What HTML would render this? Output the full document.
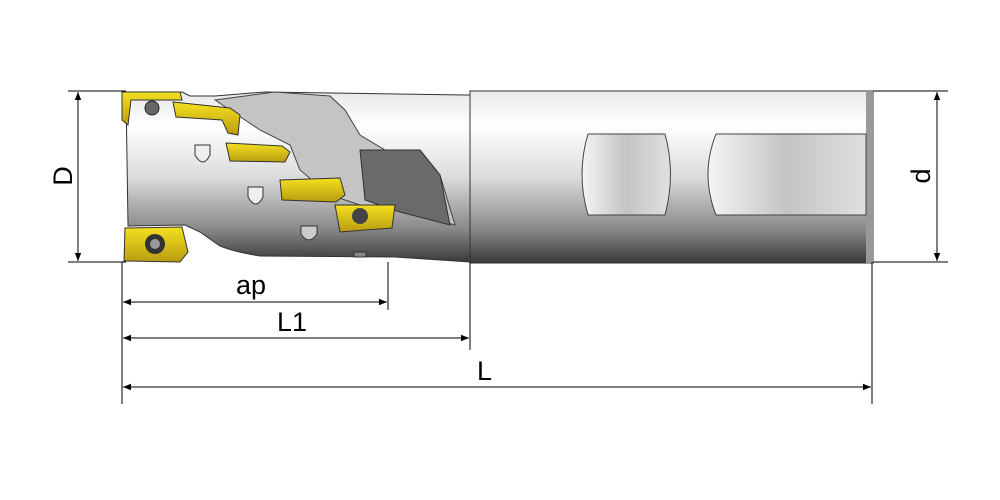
<!DOCTYPE html>
<html><head><style>body{margin:0;background:#fff}svg{display:block}</style></head><body>
<svg width="1000" height="500" viewBox="0 0 1000 500" xmlns="http://www.w3.org/2000/svg">
<defs>
<linearGradient id="g" x1="0" y1="0" x2="0" y2="1">
<stop offset="0" stop-color="#e8e8e8"/><stop offset="0.2" stop-color="#ffffff"/><stop offset="0.5" stop-color="#dcdcdc"/><stop offset="0.8" stop-color="#8a8a8a"/><stop offset="1" stop-color="#3a3a3a"/>
</linearGradient>
<linearGradient id="f" x1="0" y1="0" x2="1" y2="0">
<stop offset="0" stop-color="#f4f4f4"/><stop offset="0.5" stop-color="#c4c4c4"/><stop offset="1" stop-color="#e0e0e0"/>
</linearGradient>
<linearGradient id="y" x1="0" y1="0" x2="0" y2="1">
<stop offset="0" stop-color="#f5e020"/><stop offset="1" stop-color="#b89c10"/>
</linearGradient>
<marker id="a" viewBox="0 0 10 10" refX="10" refY="5" markerWidth="12" markerHeight="8" orient="auto-start-reverse" markerUnits="userSpaceOnUse"><path d="M0,1 L10,5 L0,9 z" fill="#000"/></marker>
</defs>
<!-- shank -->
<rect x="470" y="91" width="403" height="172" fill="url(#g)" stroke="#333" stroke-width="1"/>
<rect x="866" y="91" width="7" height="172" fill="#999"/>
<path d="M588,134 H665 Q676,174 665,215 H588 Q576,174 588,134 Z" fill="url(#f)" stroke="#444"/>
<path d="M716,134 H866 V215 H716 Q700,174 716,134 Z" fill="url(#f)" stroke="#444"/>
<!-- body -->
<path d="M126,92 H182 L190,96 L215,96 Q240,94 265,92 L465,95 L470,95 V262 L395,257 L260,256 Q235,252 220,246 L200,232 L185,225 L128,226 Z" fill="url(#g)" stroke="#333"/>
<path d="M215,100 L245,96 L275,92 L330,96 L345,110 L360,135 L385,150 L420,150 L440,175 L455,225 L420,215 L390,205 L360,205 L330,195 L300,170 L290,145 L260,130 Z" fill="#c4c4c4" stroke="#444"/>
<path d="M360,150 L420,150 L440,175 L450,225 L400,212 L365,200 Z" fill="#6a6a6a" stroke="#333"/>
<!-- inserts -->
<path d="M122,92 H180 L182,100 H131 L128,125 L122,120 Z" fill="url(#y)" stroke="#333"/>
<path d="M173,102 L230,108 L240,115 L238,135 L228,133 L222,120 L176,117 Z" fill="url(#y)" stroke="#333"/>
<path d="M226,143 L282,146 L290,152 L285,162 L230,161 Z" fill="url(#y)" stroke="#333"/>
<path d="M280,180 L340,178 L345,195 L336,202 L282,200 Z" fill="url(#y)" stroke="#333"/>
<path d="M335,205 L395,205 L392,228 L340,232 Z" fill="url(#y)" stroke="#333"/>
<circle cx="360" cy="216" r="8" fill="#444"/>
<path d="M125,228 L182,227 L188,252 L180,262 L124,261 Z" fill="url(#y)" stroke="#333"/>
<circle cx="155" cy="244" r="10" fill="#333"/><circle cx="155" cy="244" r="5" fill="#999"/>
<!-- holes -->
<circle cx="152" cy="108" r="7" fill="#666" stroke="#222"/>
<path d="M195,145 h15 v10 q-7,14 -15,0 z" fill="#eee" stroke="#333"/>
<path d="M248,187 h15 v10 q-7,14 -15,0 z" fill="#eee" stroke="#333"/>
<path d="M301,226 h16 v8 q-8,12 -16,0 z" fill="#ccc" stroke="#333"/>
<rect x="354" y="252" width="12" height="5" fill="#888" stroke="#333"/>
<!-- dimension lines -->
<g stroke="#000" stroke-width="1" fill="none">
<path d="M68,91 H126 M68,262 H126 M873,91 H948 M873,262 H948"/>
<path d="M122,262 V404 M388,262 V310 M470,262 V350 M872,262 V404"/>
<line x1="78" y1="92" x2="78" y2="261" marker-start="url(#a)" marker-end="url(#a)"/>
<line x1="937" y1="92" x2="937" y2="261" marker-start="url(#a)" marker-end="url(#a)"/>
<line x1="123" y1="302" x2="387" y2="302" marker-start="url(#a)" marker-end="url(#a)"/>
<line x1="123" y1="338" x2="469" y2="338" marker-start="url(#a)" marker-end="url(#a)"/>
<line x1="123" y1="387" x2="871" y2="387" marker-start="url(#a)" marker-end="url(#a)"/>
</g>
<g font-family="Liberation Sans, sans-serif" font-size="27" fill="#000">
<text x="236" y="294">ap</text>
<text x="277" y="331">L1</text>
<text x="477" y="380">L</text>
<text transform="translate(72,176) rotate(-90)" text-anchor="middle">D</text>
<text transform="translate(930,176) rotate(-90)" text-anchor="middle">d</text>
</g>
</svg>
</body></html>
